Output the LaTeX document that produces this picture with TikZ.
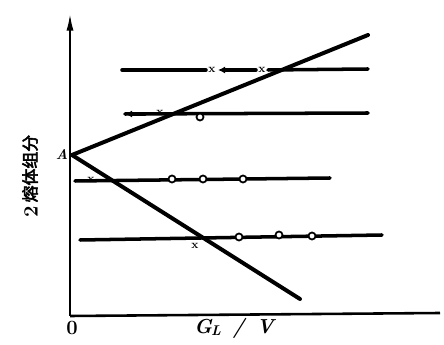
\documentclass[tikz,border=0pt]{standalone}
\usepackage{fontspec}
\usetikzlibrary{arrows.meta}
\newfontfamily\cjk[AutoFakeBold=3]{Noto Sans CJK SC}

\begin{document}
\begin{tikzpicture}[x=0.03cm,y=-0.03cm,
    axis/.style={line width=2.2pt},
    trace/.style={line width=3.4pt,line cap=round},
    tie/.style={line width=3pt,line cap=round},
    ring/.style={circle,draw,line width=1.5pt,fill=white,inner sep=0pt,minimum size=6pt},
    cross/.style={inner sep=0pt,font=\bfseries\normalsize},
    lab/.style={inner sep=0pt,font=\bfseries}
  ]
    \useasboundingbox (0,0) rectangle (444,345);
    % axes
    \coordinate (o) at (70,316);
    \coordinate (ytop) at (70,12);
    \coordinate (xend) at (440,313);
    \draw[axis,-{Latex[length=16pt,width=6pt]}] (o) -- (ytop);
    \draw[axis] (o) -- (xend);
    \node[lab,font=\bfseries\LARGE] (zero) at (72,328) {0};
    \node[lab,font=\bfseries\itshape\LARGE] (xlab) at (234,328) {G\kern-1pt\raisebox{-2pt}{\large L}\ \,/\ \,V};
    \node[lab,rotate=90,anchor=center] (ylab) at (30,176) {\LARGE 2\,\raisebox{1pt}{\cjk\bfseries\Large 熔体组分}};
    % operating lines
    \coordinate (A) at (72,155);
    \coordinate (up) at (368,35);
    \coordinate (dn) at (300,299);
    \node[lab,font=\bfseries\itshape\large] (alab) at (62,155) {A};
    \draw[trace] (A) -- (up);
    \draw[trace] (A) -- (dn);
    % tie lines
    \coordinate (a1) at (122,70);  \coordinate (a2) at (206,70);
    \coordinate (a3) at (218,70);  \coordinate (a4) at (256,70);
    \coordinate (a5) at (268,70);  \coordinate (a6) at (368,69);
    \draw[tie] (a1) -- (a2);
    \draw[tie,{Latex[length=6pt,width=6pt]}-] (a3) -- (a4);
    \draw[tie] (a5) -- (a6);
    \node[cross] (x1) at (212,70) {x};
    \node[cross] (x2) at (262,70) {x};
    \coordinate (b1) at (125,114); \coordinate (b2) at (368,113);
    \coordinate (b3) at (145,114);
    \draw[tie] (b1) -- (b2);
    \draw[tie,{Latex[length=6pt,width=6pt]}-] (b1) -- (b3);
    \node[cross] (x4) at (160,113) {x};
    \node[ring] (c1) at (200,117) {};
    \coordinate (d1) at (75,181);  \coordinate (d2) at (330,178);
    \draw[tie] (d1) -- (d2);
    \node[cross] (x5) at (91,180) {x};
    \foreach \p/\n in {172/c2,203/c3,243/c4}
      \node[ring] (\n) at (\p,179) {};
    \coordinate (e1) at (80,240);  \coordinate (e2) at (382,235);
    \draw[tie] (e1) -- (e2);
    \node[cross] (x6) at (195,246) {x};
    \node[ring] (c5) at (239,237) {};
    \node[ring] (c6) at (279,235) {};
    \node[ring] (c7) at (312,236) {};
  \end{tikzpicture}
\end{document}
